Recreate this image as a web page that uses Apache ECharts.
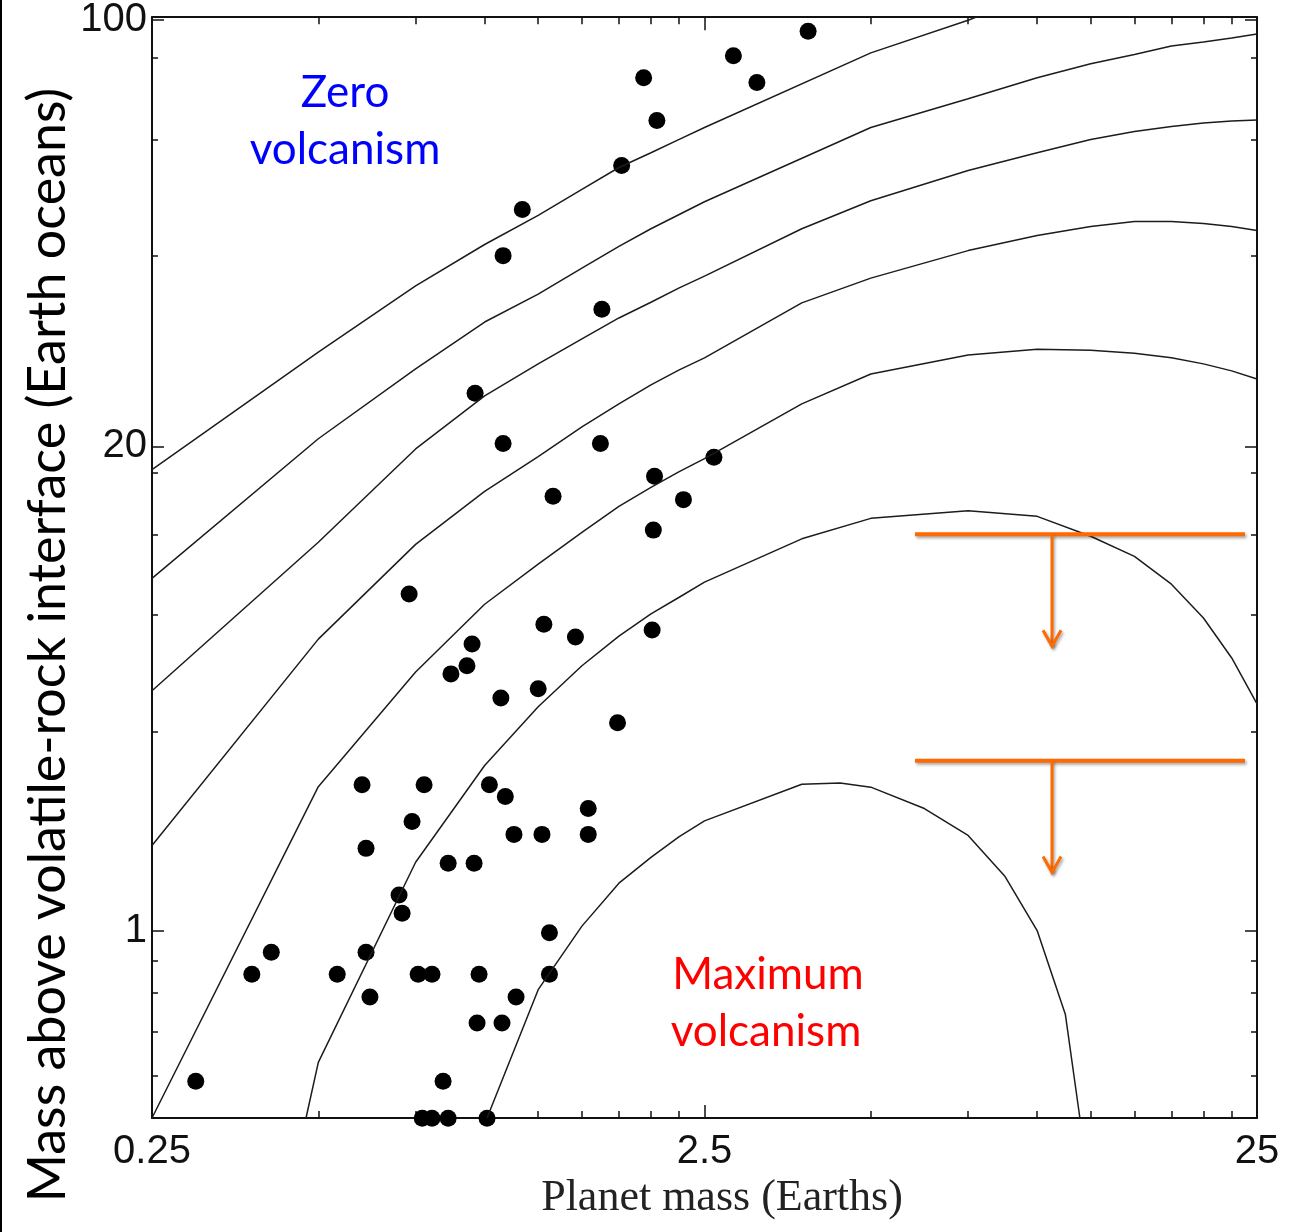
<!DOCTYPE html>
<html>
<head>
<meta charset="utf-8">
<script src="https://cdn.jsdelivr.net/npm/echarts@6/dist/echarts.min.js"></script>
<style>
html,body{margin:0;padding:0;background:#fff;}
#chart{width:1315px;height:1232px;}
</style>
</head>
<body>
<div id="chart"></div>
<script>
// ---------------- data ----------------
// x: planet mass (Earths), log axis
const massMajorTicks = [0.25, 2.5, 25];
const massMinorTicks = [0.5, 0.75, 1, 1.25, 1.5, 1.75, 2, 2.25, 5, 7.5, 10, 12.5, 15, 17.5, 20, 22.5];
// y: mass above volatile-rock interface (Earth oceans)
const oceanLabels = [1, 20, 100];
const oceanMinorTicks = [0.225, 0.373, 0.559, 0.760, 4.37, 8.66, 13.17, 17.72, 44.1, 67.3, 88.5];
const Y_MIN = 0.1304;
const Y_MAX = 100.9;

// planets (scatter)
const planetMass = [3.85, 2.82, 1.94, 3.11, 2.05, 1.77, 1.17, 1.08, 1.63, 0.961,
  1.08, 1.62, 2.60, 2.03, 1.33, 2.29, 2.02, 0.730, 1.28, 2.01,
  1.46, 0.949, 0.929, 0.869, 1.07, 1.25, 1.74, 0.600, 0.777, 1.02,
  1.09, 0.739, 1.54, 0.610, 1.13, 1.27, 1.54, 0.859, 0.957, 0.700,
  0.709, 1.31, 0.411, 0.610, 0.379, 0.541, 0.758, 0.803, 0.977, 1.31,
  0.620, 1.14, 0.969, 1.075, 0.300, 0.841, 0.771, 0.803, 0.859, 1.01];
const planetOceans = [96.5, 89.1, 82.9, 81.6, 71.8, 61.4, 52.4, 44.1, 35.8, 25.27,
  20.25, 20.25, 19.03, 17.42, 15.85, 15.60, 13.45, 9.69, 8.23, 7.97,
  7.67, 7.37, 6.51, 6.21, 5.38, 5.69, 4.62, 3.08, 3.08, 3.08,
  2.84, 2.38, 2.61, 1.95, 2.165, 2.165, 2.165, 1.74, 1.74, 1.35,
  1.16, 0.98, 0.823, 0.823, 0.670, 0.670, 0.670, 0.670, 0.670, 0.670,
  0.536, 0.536, 0.41, 0.41, 0.21, 0.21, 0.13, 0.13, 0.13, 0.13];

// contour curves [mass, oceans]
const curveA = [[0.25,17.97],[0.5,30.06],[0.75,39.23],[1,46.0],[1.25,51.26],[1.5,56.35],[1.75,60.96],[2,64.2],[2.25,67.27],[2.5,70.1],[5,89.96],[7.5,99.9],[10,108.9]];
const curveB = [[0.25,10.53],[0.5,20.69],[0.75,28.03],[1,34.0],[1.25,38.0],[1.5,42.04],[1.75,45.66],[2,48.8],[2.25,51.44],[2.5,53.9],[5,70.1],[7.5,77.27],[10,82.9],[12.5,86.85],[15,89.5],[17.5,92.0],[20,93.2],[22.5,94.4],[25,95.6]];
const curveC = [[0.25,5.62],[0.5,12.66],[0.75,19.76],[1,25.0],[1.25,28.63],[1.5,31.74],[1.75,34.56],[2,36.8],[2.25,38.93],[2.5,40.76],[3.75,48.8],[5,54.1],[7.5,60.31],[10,64.2],[12.5,67.27],[15,69.16],[17.5,70.34],[20,71.2],[22.5,71.69],[25,71.93]];
const curveD = [[0.25,1.993],[0.5,7.58],[0.75,12.53],[1,16.22],[1.25,19.08],[1.5,21.81],[1.75,24.14],[2,26.2],[2.25,27.91],[2.5,29.35],[3.75,36.7],[5,40.45],[7.5,44.95],[10,47.6],[12.5,49.19],[15,50.13],[17.5,50.13],[20,49.75],[22.5,49.19],[25,48.47]];
const curveE = [[0.25,0.1304],[0.5,3.04],[0.75,6.28],[1,9.18],[1.25,11.33],[1.5,13.30],[1.75,15.10],[2,16.53],[2.25,17.80],[2.5,18.91],[3.75,24.14],[5,27.44],[7.5,29.70],[10,30.42],[12.5,30.30],[15,29.94],[17.5,29.36],[20,28.63],[22.5,27.80],[25,26.86]];
const curveF = [[0.475,0.1304],[0.5,0.264],[0.75,1.754],[1,3.506],[1.25,5.10],[1.5,6.51],[1.75,7.71],[2,8.71],[2.25,9.53],[2.5,10.32],[3.75,12.88],[5,14.25],[7.5,14.78],[10,14.39],[12.5,13.05],[15,11.79],[17.5,10.21],[20,8.52],[22.5,6.81],[25,5.19]];
const curveG = [[1.01,0.1304],[1.25,0.577],[1.5,1.039],[1.75,1.487],[2,1.82],[2.25,2.13],[2.5,2.39],[3.75,3.09],[4.4,3.12],[5,3.03],[6.25,2.61],[7.5,2.149],[8.75,1.567],[10,1.0],[11.25,0.448],[11.95,0.1304]];
const curves = [curveA, curveB, curveC, curveD, curveE, curveF, curveG];

// orange annotations (data units)
const barLevels = [13.17, 3.62];
const arrowTips = [7.28, 1.62];
const barSpan = [6.01, 23.78];
const arrowMass = 10.64;

// ---------------- y scale transform (axis is neither linear nor log) ----------------
const P = 0.22;
const tf = v => Math.pow(v, P);
const inv = u => Math.pow(u, 1 / P);

const chart = echarts.init(document.getElementById('chart'), null, {renderer: 'canvas'});

const tickFont = {fontFamily: 'Liberation Sans, Arial, sans-serif', fontSize: 40, color: '#111'};
const lineColor = '#111';

function xAx(pos, opts) {
  return Object.assign({
    type: 'log', logBase: 10, min: 0.25, max: 25, position: pos, gridIndex: 0,
    splitLine: {show: false}, axisLine: {show: false}, axisLabel: {show: false}, axisTick: {show: false}
  }, opts);
}
function yAx(pos, opts) {
  return Object.assign({
    type: 'value', min: tf(Y_MIN), max: tf(Y_MAX), position: pos, gridIndex: 0,
    splitLine: {show: false}, axisLine: {show: false}, axisLabel: {show: false}, axisTick: {show: false}
  }, opts);
}

const option = {
  animation: false,
  backgroundColor: '#fff',
  grid: {left: 152, top: 14, width: 1105, height: 1104, containLabel: false},
  xAxis: [
    xAx('bottom', {
      axisLine: {show: true, lineStyle: {color: lineColor, width: 2}},
      axisTick: {show: true, inside: true, length: 13, lineStyle: {color: lineColor, width: 1.5}, customValues: massMajorTicks},
      axisLabel: Object.assign({show: true, margin: 14, customValues: massMajorTicks,
        formatter: v => String(Math.round(v * 100) / 100)}, tickFont)
    }),
    xAx('bottom', {axisTick: {show: true, inside: true, length: 7, lineStyle: {color: lineColor, width: 1.5}, customValues: massMinorTicks}}),
    xAx('top', {
      axisLine: {show: true, lineStyle: {color: lineColor, width: 2}},
      axisTick: {show: true, inside: true, length: 13, lineStyle: {color: lineColor, width: 1.5}, customValues: massMajorTicks}
    }),
    xAx('top', {axisTick: {show: true, inside: true, length: 7, lineStyle: {color: lineColor, width: 1.5}, customValues: massMinorTicks}})
  ],
  yAxis: [
    yAx('left', {
      axisLine: {show: true, lineStyle: {color: lineColor, width: 2}},
      axisTick: {show: true, inside: true, length: 12, lineStyle: {color: lineColor, width: 1.5}, customValues: oceanLabels.map(tf)},
      axisLabel: Object.assign({show: true, margin: 5, customValues: oceanLabels.map(tf),
        formatter: u => String(Math.round(inv(u)))}, tickFont)
    }),
    yAx('left', {axisTick: {show: true, inside: true, length: 6, lineStyle: {color: lineColor, width: 1.5}, customValues: oceanMinorTicks.map(tf)}}),
    yAx('right', {
      axisLine: {show: true, lineStyle: {color: lineColor, width: 2}},
      axisTick: {show: true, inside: true, length: 12, lineStyle: {color: lineColor, width: 1.5}, customValues: oceanLabels.map(tf)}
    }),
    yAx('right', {axisTick: {show: true, inside: true, length: 6, lineStyle: {color: lineColor, width: 1.5}, customValues: oceanMinorTicks.map(tf)}})
  ],
  series: curves.map(c => ({
    type: 'line', xAxisIndex: 0, yAxisIndex: 0, silent: true,
    showSymbol: false, symbol: 'none',
    lineStyle: {color: '#1c1c1c', width: 1.5},
    data: c.map(([m, v]) => [m, tf(v)])
  })).concat([{
    type: 'scatter', xAxisIndex: 0, yAxisIndex: 0, clip: false, silent: true,
    symbol: 'circle', symbolSize: 17,
    itemStyle: {color: '#000', opacity: 1},
    data: planetMass.map((m, i) => [m, tf(planetOceans[i])])
  }]),
  graphic: [
    {type: 'rect', left: 0, top: 0, shape: {width: 2, height: 1232}, style: {fill: '#000'}},
    {type: 'text', x: 48, y: 645, rotation: Math.PI / 2,
      style: {text: 'Mass above volatile-rock interface (Earth oceans)', fill: '#000',
        font: '52px Lato, "Open Sans", sans-serif', align: 'center', verticalAlign: 'middle',
        textAlign: 'center', textVerticalAlign: 'middle'}},
    {type: 'text', x: 722, y: 1198,
      style: {text: 'Planet mass (Earths)', fill: '#222',
        font: '44px "Liberation Serif", "DejaVu Serif", serif', align: 'center', verticalAlign: 'middle',
        textAlign: 'center', textVerticalAlign: 'middle'}},
    {type: 'text', x: 345, y: 93,
      style: {text: 'Zero', fill: '#0000FF', font: '44px Lato, sans-serif', align: 'center', verticalAlign: 'middle', textAlign: 'center', textVerticalAlign: 'middle'}},
    {type: 'text', x: 345, y: 150,
      style: {text: 'volcanism', fill: '#0000FF', font: '44px Lato, sans-serif', align: 'center', verticalAlign: 'middle', textAlign: 'center', textVerticalAlign: 'middle'}},
    {type: 'text', x: 768, y: 975,
      style: {text: 'Maximum', fill: '#FF0000', font: '44px Lato, sans-serif', align: 'center', verticalAlign: 'middle', textAlign: 'center', textVerticalAlign: 'middle'}},
    {type: 'text', x: 766, y: 1032,
      style: {text: 'volcanism', fill: '#FF0000', font: '44px Lato, sans-serif', align: 'center', verticalAlign: 'middle', textAlign: 'center', textVerticalAlign: 'middle'}}
  ]
};

chart.setOption(option);

// orange bars + arrows positioned through the chart's own coordinate system
const toPx = (m, v) => chart.convertToPixel({xAxisIndex: 0, yAxisIndex: 0}, [m, tf(v)]);
const orange = '#FF6A00';
const shadow = {shadowBlur: 3, shadowColor: 'rgba(0,0,0,0.35)', shadowOffsetX: 1.5, shadowOffsetY: 2};
const annot = [];
barLevels.forEach((lvl, i) => {
  const a = toPx(barSpan[0], lvl), b = toPx(barSpan[1], lvl);
  const s = toPx(arrowMass, lvl), t = toPx(arrowMass, arrowTips[i]);
  annot.push({type: 'line', z: 50, shape: {x1: a[0], y1: a[1], x2: b[0], y2: b[1]},
    style: Object.assign({stroke: orange, lineWidth: 4}, shadow)});
  annot.push({type: 'line', z: 50, shape: {x1: s[0], y1: s[1], x2: t[0], y2: t[1]},
    style: Object.assign({stroke: orange, lineWidth: 3}, shadow)});
  annot.push({type: 'polyline', z: 50, shape: {points: [[t[0] - 9, t[1] - 16], [t[0], t[1]], [t[0] + 9, t[1] - 16]]},
    style: Object.assign({stroke: orange, lineWidth: 3, fill: null, lineJoin: 'miter'}, shadow)});
});
chart.setOption({graphic: option.graphic.concat(annot)});
</script>
</body>
</html>
